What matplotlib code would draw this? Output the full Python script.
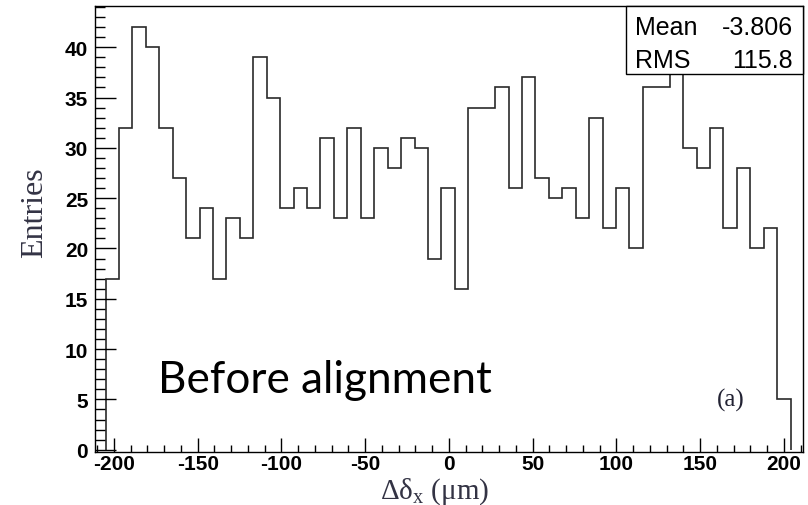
import numpy as np
import matplotlib
matplotlib.use("Agg")
import matplotlib.pyplot as plt
from matplotlib.ticker import MultipleLocator

# histogram contents (51 bins), bin 43 hidden under the stats box -> 39 (from mean)
counts = [17, 32, 42, 40, 32, 27, 21, 24, 17, 23, 21, 39, 35, 24, 26, 24, 31,
          23, 32, 23, 30, 28, 31, 30, 19, 26, 16, 34, 34, 36, 26, 37, 27, 25,
          26, 23, 33, 22, 26, 20, 36, 36, 39, 30, 28, 32, 22, 28, 20, 22, 5]
edges = np.linspace(-205, 204, len(counts) + 1)

stat_names = ["Mean", "RMS"]
stat_values = ["-3.806", "115.8"]

plt.rcParams['axes.unicode_minus'] = False
plt.rcParams['font.family'] = 'Liberation Sans'
plt.rcParams['font.weight'] = 'bold'
plt.rcParams['mathtext.fontset'] = 'custom'
plt.rcParams['mathtext.rm'] = 'Liberation Serif:normal'
plt.rcParams['mathtext.it'] = 'Liberation Serif:italic:normal'

fig = plt.figure(figsize=(8.08, 5.06), dpi=100)
W, H = 808, 506
ax = fig.add_axes([95 / W, 1 - 452.7 / H, (802.7 - 95) / W, (452.7 - 7) / H])

ax.stairs(counts, edges, color='#2a2a2a', linewidth=1.2, baseline=0)

ax.set_xlim(-211.3, 211.2)
ax.set_ylim(-0.2, 44.1)

for s in ax.spines.values():
    s.set_linewidth(1.0)
    s.set_color('black')

ax.xaxis.set_major_locator(MultipleLocator(50))
ax.xaxis.set_minor_locator(MultipleLocator(10))
ax.yaxis.set_major_locator(MultipleLocator(5))
ax.yaxis.set_minor_locator(MultipleLocator(1))
ax.tick_params(axis='x', which='major', direction='in', length=10, width=1,
               pad=2, labelsize=15)
ax.tick_params(axis='x', which='minor', direction='in', length=5, width=1)
ax.tick_params(axis='y', which='major', direction='in', length=15, width=1,
               pad=5, labelsize=15)
ax.tick_params(axis='y', which='minor', direction='in', length=7.2, width=1)

fig.text(35 / W, 1 - 213 / H, "Entries", rotation=90, ha='center', va='center',
         family='Liberation Serif', fontweight='normal', fontsize=23,
         color='#333344')
fig.text(435 / W, 1 - 492 / H, "Δδ$_{\\mathrm{x}}$ (μm)", ha='center',
         va='center', family='Liberation Serif', fontweight='normal',
         fontsize=21, color='#333344')

# stats box
box = plt.Rectangle((626 / W, 1 - 75 / H), (802.7 - 626) / W, (75 - 7) / H,
                    transform=fig.transFigure, facecolor='white',
                    edgecolor='black', linewidth=1.0, zorder=5)
fig.add_artist(box)
for i, (n, v) in enumerate(zip(stat_names, stat_values)):
    y = 1 - (35 + 33 * i) / H
    fig.text(635 / W, y, n, ha='left', va='baseline', fontweight='normal',
             fontsize=18, zorder=6)
    fig.text(793 / W, y, v, ha='right', va='baseline', fontweight='normal',
             fontsize=18, zorder=6)

fig.text(158 / W, 1 - 393 / H, "Before alignment", ha='left', va='baseline',
         family='Lato', fontweight='normal', fontsize=31.8, color='black')
fig.text(731 / W, 1 - 400 / H, "(a)", ha='center', va='center',
         family='Liberation Serif', fontweight='normal', fontsize=18,
         color='#222233')

fig.savefig("out.png", dpi=100)
